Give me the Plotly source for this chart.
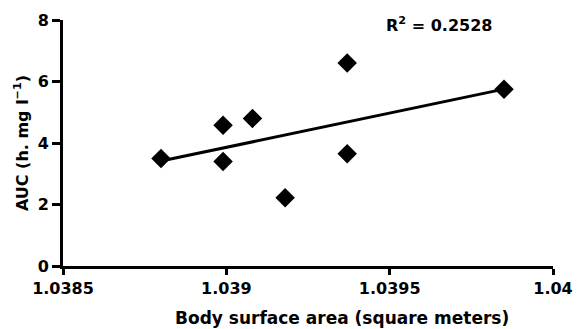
import numpy as np
import plotly.graph_objects as go

bsa = [1.03880, 1.03899, 1.03899, 1.03908, 1.03918, 1.03937, 1.03937, 1.03985]
auc = [3.50, 4.58, 3.40, 4.80, 2.22, 3.65, 6.60, 5.75]
x_ticks = [1.0385, 1.039, 1.0395, 1.04]
x_tick_labels = ["1.0385", "1.039", "1.0395", "1.04"]
y_ticks = [0, 2, 4, 6, 8]
r2_label = "R<sup>2</sup> = 0.2528"
x_title = "Body surface area (square meters)"
y_title = "AUC (h. mg l<sup>−1</sup>)"

slope, intercept = np.polyfit(bsa, auc, 1)
xf = np.array([min(bsa), max(bsa)])
yf = slope * xf + intercept

FAM = "DejaVu Sans, Liberation Sans, Arial, sans-serif"

fig = go.Figure()
fig.add_trace(go.Scatter(x=xf, y=yf, mode="lines", line=dict(color="black", width=3),
                         showlegend=False, hoverinfo="skip", cliponaxis=False))
fig.add_trace(go.Scatter(x=bsa, y=auc, mode="markers",
                         marker=dict(symbol="diamond", size=15, color="black"),
                         showlegend=False, cliponaxis=False))

fig.add_annotation(text=r2_label, x=1.03965, y=7.84, xref="x", yref="y",
                   xanchor="center", yanchor="middle", showarrow=False,
                   font=dict(family=FAM, size=16, color="black", weight="bold"))
fig.add_annotation(text=x_title, x=0.569, y=-0.211, xref="paper", yref="paper",
                   xanchor="center", yanchor="middle", showarrow=False,
                   font=dict(family=FAM, size=17, color="black", weight="bold"))

fig.update_layout(
    width=573, height=321,
    margin=dict(l=55, r=28, t=12, b=63, autoexpand=False),
    paper_bgcolor="white", plot_bgcolor="white",
    font=dict(family=FAM, size=16, color="black", weight="bold"),
)
fig.update_xaxes(range=[1.0385, 1.04], tickvals=x_ticks, ticktext=x_tick_labels,
                 tickfont=dict(family=FAM, size=16, color="black", weight="bold"),
                 showline=True, linecolor="black", linewidth=3, ticks="outside", ticklen=6,
                 tickwidth=3, tickcolor="black", showgrid=False, zeroline=False,
                 automargin=False)
fig.update_yaxes(range=[0, 8], tickvals=y_ticks, ticktext=[str(t) for t in y_ticks],
                 tickfont=dict(family=FAM, size=16, color="black", weight="bold"),
                 showline=True, linecolor="black", linewidth=3, ticks="outside", ticklen=8,
                 tickwidth=3, tickcolor="black", showgrid=False, zeroline=False,
                 automargin=False,
                 title=dict(text=y_title, standoff=6,
                            font=dict(family=FAM, size=16, color="black", weight="bold")))

fig.write_html("out.html")
